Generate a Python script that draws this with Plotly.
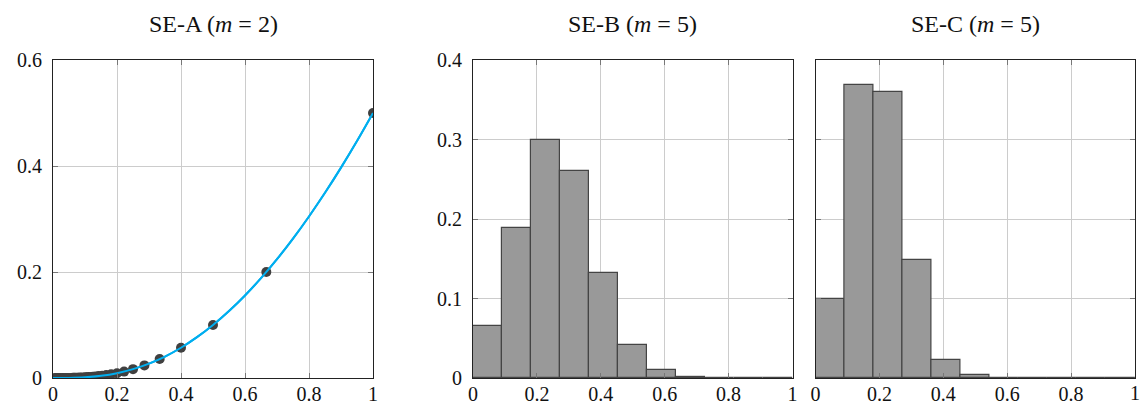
import plotly.graph_objects as go

# ---------------- data ----------------
# Panel A: sample points (dots) and smooth curve
pts_x = [1.0, 0.6667, 0.5, 0.4, 0.3333, 0.2857, 0.25, 0.2222, 0.2, 0.1818,
         0.1667, 0.1538, 0.1429, 0.1333, 0.125, 0.1176, 0.1111, 0.1053, 0.1,
         0.0909, 0.0833, 0.0769, 0.0714, 0.0667, 0.0625, 0.0571, 0.05, 0.0444,
         0.04, 0.0345, 0.03, 0.025, 0.02, 0.015, 0.01, 0.005]
pts_y = [0.5, 0.2, 0.1, 0.0571, 0.0357, 0.0238, 0.0167, 0.0121, 0.0091, 0.0070,
         0.0055, 0.0044, 0.0036, 0.0029, 0.0025, 0.0021, 0.0018, 0.0015, 0.0013,
         0.0010, 0.0008, 0.0006, 0.0005, 0.0004, 0.0003, 0.0002, 0.0002, 0.0001,
         0.0001, 0.0001, 0.0, 0.0, 0.0, 0.0, 0.0, 0.0]
curve_x = [0.0, 0.05, 0.1, 0.15, 0.2, 0.25, 0.3, 0.35, 0.4, 0.45, 0.5,
           0.55, 0.6, 0.65, 0.7, 0.75, 0.8, 0.85, 0.9, 0.95, 1.0]
curve_y = [0.0, 0.0002, 0.0013, 0.0041, 0.0091, 0.0167, 0.0271, 0.0405, 0.0571,
           0.0770, 0.1, 0.1263, 0.1558, 0.1884, 0.2242, 0.2630, 0.3048, 0.3494,
           0.3969, 0.4471, 0.5]

# Panels B and C: histograms on 11 equal bins over [0, 1]
bin_edges = [0.0, 0.0909, 0.1818, 0.2727, 0.3636, 0.4545, 0.5455, 0.6364,
             0.7273, 0.8182, 0.9091, 1.0]
hist_b = [0.066, 0.189, 0.300, 0.261, 0.132, 0.042, 0.010, 0.0015, 0.0, 0.0, 0.0]
hist_c = [0.099, 0.368, 0.360, 0.148, 0.023, 0.0035, 0.0005, 0.0, 0.0, 0.0, 0.0]

titles = ["SE-A (<i>m</i> = 2)", "SE-B (<i>m</i> = 5)", "SE-C (<i>m</i> = 5)"]
x_ticks = [0, 0.2, 0.4, 0.6, 0.8, 1]
x_ticktext = ["0", "0.2", "0.4", "0.6", "0.8", "1"]
ya_ticks = [0, 0.2, 0.4, 0.6]
ya_ticktext = ["0", "0.2", "0.4", "0.6"]
yb_ticks = [0, 0.1, 0.2, 0.3, 0.4]
yb_ticktext = ["0", "0.1", "0.2", "0.3", "0.4"]

# ---------------- layout geometry ----------------
W, H = 1140, 405
ML, MR, MT, MB = 53, 5, 60, 27
PW = W - ML - MR
PH = H - MT - MB
def dom(px0, px1):
    return [(px0 - ML) / PW, (px1 - ML) / PW]
dA = dom(53, 373)
dB = dom(473, 792.5)
dC = dom(815.5, 1135)

FONT = "Liberation Serif"
fig = go.Figure()

fig.add_trace(go.Scatter(x=curve_x, y=curve_y, mode="lines", line=dict(color="#00AEEF", width=2, shape="spline"),
                         xaxis="x", yaxis="y", showlegend=False, cliponaxis=True))
fig.add_trace(go.Scatter(x=pts_x, y=pts_y, mode="markers", marker=dict(color="#404040", size=10),
                         xaxis="x", yaxis="y", showlegend=False, cliponaxis=True))
fig.add_trace(go.Scatter(x=curve_x, y=curve_y, mode="lines", line=dict(color="#00AEEF", width=2, shape="spline"),
                         xaxis="x", yaxis="y", showlegend=False, cliponaxis=True))

centers = [(bin_edges[i] + bin_edges[i + 1]) / 2 for i in range(len(bin_edges) - 1)]
widths = [bin_edges[i + 1] - bin_edges[i] for i in range(len(bin_edges) - 1)]
bar_style = dict(marker=dict(color="#999999", line=dict(color="#444444", width=1.2)), showlegend=False)
fig.add_trace(go.Bar(x=centers, y=hist_b, width=widths, xaxis="x2", yaxis="y2", **bar_style))
fig.add_trace(go.Bar(x=centers, y=hist_c, width=widths, xaxis="x3", yaxis="y3", **bar_style))

TICKFONT = dict(family=FONT, size=20, color="#111111")

def xax(domain, anchor, ticktext):
    return dict(domain=domain, anchor=anchor, range=[0, 1], tickvals=x_ticks, ticktext=ticktext,
                automargin=False, ticklabeloverflow="allow", ticklabelstandoff=-2,
                showgrid=True, gridcolor="#cccccc", gridwidth=1, zeroline=False,
                showline=True, linecolor="#222222", linewidth=1, mirror="ticks",
                ticks="inside", ticklen=5, tickcolor="#777777", tickfont=TICKFONT)

def yax(anchor, rng, tv, tt, show=True):
    return dict(domain=[0, 1], anchor=anchor, range=rng, tickvals=tv, ticktext=tt,
                showticklabels=show, automargin=False, ticklabeloverflow="allow", ticklabelstandoff=6,
                showgrid=True, gridcolor="#cccccc", gridwidth=1, zeroline=False,
                showline=True, linecolor="#222222", linewidth=1, mirror="ticks",
                ticks="inside", ticklen=5, tickcolor="#777777", tickfont=TICKFONT)

annotations = []
for d, t in zip([dA, dB, dC], titles):
    annotations.append(dict(text=t, x=(d[0] + d[1]) / 2, xref="paper", y=1 + 36 / PH, yref="paper",
                            xanchor="center", yanchor="middle", showarrow=False,
                            font=dict(family=FONT, size=24, color="#111111")))
# last tick label of the right-most panel (plotly hides it at the page edge)
annotations.append(dict(text=x_ticktext[-1], x=dC[1], xref="paper", y=0, yref="paper",
                        xanchor="center", yanchor="middle", yshift=-15, showarrow=False,
                        font=TICKFONT))

x_ticktext_c = x_ticktext[:-1] + [""]

fig.update_layout(
    width=W, height=H,
    margin=dict(l=ML, r=MR, t=MT, b=MB, pad=0, autoexpand=False),
    paper_bgcolor="white", plot_bgcolor="white",
    bargap=0,
    xaxis=xax(dA, "y", x_ticktext), yaxis=yax("x", [0, 0.6], ya_ticks, ya_ticktext),
    xaxis2=xax(dB, "y2", x_ticktext), yaxis2=yax("x2", [0, 0.4], yb_ticks, yb_ticktext),
    xaxis3=xax(dC, "y3", x_ticktext_c), yaxis3=yax("x3", [0, 0.4], yb_ticks, yb_ticktext, show=False),
    annotations=annotations,
    font=dict(family=FONT),
)

fig.write_html("out.html")
